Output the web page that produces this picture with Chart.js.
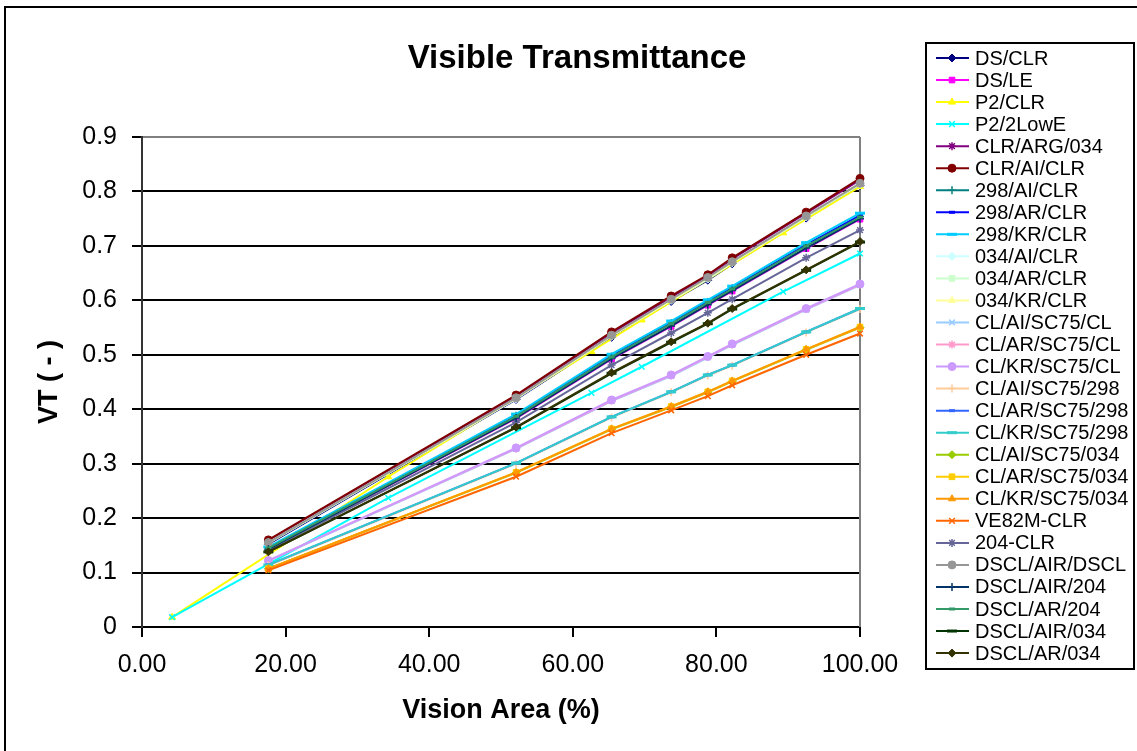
<!DOCTYPE html>
<html>
<head>
<meta charset="utf-8">
<title>Visible Transmittance</title>
<script src="https://cdn.jsdelivr.net/npm/chart.js@4.4.1/dist/chart.umd.min.js"></script>
<style>
  html, body { margin: 0; padding: 0; background: #fff; }
  #vt-chart { display: block; }
</style>
</head>
<body>
<canvas id="vt-chart" width="1137" height="751"></canvas>
<script>
// Vision area (%) where the VT was computed
const visionArea = [17.6, 52.1, 65.4, 73.7, 78.8, 82.2, 92.5, 100.0];
const visionAreaP2 = [4.2, 34.3, 62.6, 69.6, 89.3, 100.0];

// VT values per glazing
const dsClr = [0.152, 0.418, 0.532, 0.598, 0.637, 0.667, 0.751, 0.811];
const dsLe = [0.143, 0.383, 0.492, 0.552, 0.591, 0.617, 0.695, 0.749];
const p2Clr = [0.018, 0.276, 0.506, 0.564, 0.724, 0.809];
const p2LowE = [0.018, 0.237, 0.430, 0.478, 0.616, 0.686];
const clrArg034 = [0.158, 0.424, 0.540, 0.606, 0.645, 0.676, 0.760, 0.821];
const clrAiClr = [0.160, 0.426, 0.542, 0.608, 0.647, 0.678, 0.762, 0.824];
const g298AiClr = [0.146, 0.388, 0.497, 0.558, 0.597, 0.622, 0.701, 0.754];
const g298ArClr = [0.146, 0.389, 0.498, 0.559, 0.598, 0.623, 0.702, 0.756];
const g298KrClr = [0.147, 0.391, 0.501, 0.562, 0.601, 0.626, 0.706, 0.760];
const g034AiClr = [0.154, 0.419, 0.534, 0.600, 0.639, 0.669, 0.753, 0.813];
const g034ArClr = [0.154, 0.420, 0.535, 0.601, 0.640, 0.670, 0.754, 0.814];
const g034KrClr = [0.155, 0.420, 0.535, 0.601, 0.641, 0.670, 0.754, 0.815];
const clAiSc75Cl = [0.121, 0.327, 0.415, 0.461, 0.495, 0.518, 0.583, 0.628];
const clArSc75Cl = [0.122, 0.328, 0.416, 0.462, 0.496, 0.519, 0.584, 0.629];
const clKrSc75Cl = [0.122, 0.329, 0.417, 0.463, 0.497, 0.520, 0.585, 0.630];
const clAiSc75298 = [0.113, 0.300, 0.385, 0.431, 0.462, 0.480, 0.541, 0.584];
const clArSc75298 = [0.114, 0.301, 0.386, 0.432, 0.463, 0.481, 0.542, 0.585];
const clKrSc75298 = [0.114, 0.301, 0.386, 0.432, 0.463, 0.481, 0.542, 0.585];
const clAiSc75034 = [0.107, 0.283, 0.363, 0.404, 0.431, 0.451, 0.509, 0.550];
const clArSc75034 = [0.107, 0.284, 0.364, 0.405, 0.432, 0.452, 0.510, 0.551];
const clKrSc75034 = [0.107, 0.284, 0.364, 0.405, 0.432, 0.452, 0.510, 0.551];
const ve82mClr = [0.104, 0.276, 0.356, 0.398, 0.424, 0.444, 0.500, 0.539];
const g204Clr = [0.141, 0.376, 0.481, 0.540, 0.577, 0.602, 0.678, 0.729];
const dsclAirDscl = [0.155, 0.421, 0.536, 0.602, 0.642, 0.671, 0.755, 0.815];
const dsclAir204 = [0.143, 0.384, 0.493, 0.553, 0.592, 0.618, 0.696, 0.750];
const dsclAr204 = [0.145, 0.387, 0.496, 0.557, 0.596, 0.621, 0.700, 0.753];
const dsclAir034 = [0.138, 0.366, 0.466, 0.523, 0.557, 0.584, 0.655, 0.707];
const dsclAr034 = [0.138, 0.367, 0.467, 0.524, 0.558, 0.585, 0.656, 0.708];

const seriesNames = [
    'DS/CLR', 'DS/LE', 'P2/CLR', 'P2/2LowE', 'CLR/ARG/034', 'CLR/AI/CLR',
    '298/AI/CLR', '298/AR/CLR', '298/KR/CLR', '034/AI/CLR', '034/AR/CLR', '034/KR/CLR',
    'CL/AI/SC75/CL', 'CL/AR/SC75/CL', 'CL/KR/SC75/CL', 'CL/AI/SC75/298', 'CL/AR/SC75/298',
    'CL/KR/SC75/298', 'CL/AI/SC75/034', 'CL/AR/SC75/034', 'CL/KR/SC75/034', 'VE82M-CLR',
    '204-CLR', 'DSCL/AIR/DSCL', 'DSCL/AIR/204', 'DSCL/AR/204', 'DSCL/AIR/034', 'DSCL/AR/034'
];
const seriesValues = [
    dsClr, dsLe, p2Clr, p2LowE, clrArg034, clrAiClr,
    g298AiClr, g298ArClr, g298KrClr, g034AiClr, g034ArClr, g034KrClr,
    clAiSc75Cl, clArSc75Cl, clKrSc75Cl, clAiSc75298, clArSc75298,
    clKrSc75298, clAiSc75034, clArSc75034, clKrSc75034, ve82mClr,
    g204Clr, dsclAirDscl, dsclAir204, dsclAr204, dsclAir034, dsclAr034
];
const seriesX = seriesNames.map(name => name.startsWith('P2/') ? visionAreaP2 : visionArea);

// Excel-like series colours and markers
const seriesColors = [
    '#000080', '#FF00FF', '#FFFF00', '#00FFFF', '#800080', '#800000',
    '#008080', '#0000FF', '#00CCFF', '#CCFFFF', '#CCFFCC', '#FFFF99',
    '#99CCFF', '#FF99CC', '#CC99FF', '#FFCC99', '#3366FF',
    '#33CCCC', '#99CC00', '#FFCC00', '#FF9900', '#FF6600',
    '#666699', '#969696', '#003366', '#339966', '#003300', '#333300'
];
const markerCycle = ['rectRot', 'rect', 'triangle', 'crossRot', 'star', 'circle', 'cross', 'line', 'line'];

const FONT = '"Liberation Sans", Arial, Helvetica, sans-serif';

// Build the datasets
const datasets = seriesNames.map((name, i) => {
    const style = markerCycle[i % markerCycle.length];
    const isStroke = style === 'crossRot' || style === 'star' || style === 'cross' || style === 'line';
    return {
        label: name,
        data: seriesValues[i].map((v, j) => ({ x: seriesX[i][j], y: v })),
        showLine: true,
        tension: 0,
        borderColor: seriesColors[i],
        backgroundColor: seriesColors[i],
        borderWidth: 2,
        pointStyle: style,
        pointRadius: style === 'line' ? (i % 9 === 8 ? 5 : 3) : 4,
        pointBackgroundColor: seriesColors[i],
        pointBorderColor: seriesColors[i],
        pointBorderWidth: style === 'line' ? 3 : (isStroke ? 1.5 : 1),
        order: seriesNames.length - i,
        clip: 10
    };
});

// Frame, title and plot border
const frame = {
    id: 'frame',
    beforeDraw(chart) {
        const ctx = chart.ctx;
        ctx.save();
        ctx.fillStyle = '#fff';
        ctx.fillRect(0, 0, chart.width, chart.height);
        ctx.strokeStyle = '#000';
        ctx.lineWidth = 2;
        ctx.strokeRect(5, 7, chart.width + 10, chart.height + 10);
        ctx.restore();
    },
    beforeDatasetsDraw(chart) {
        const a = chart.chartArea;
        const ctx = chart.ctx;
        ctx.save();
        ctx.strokeStyle = '#808080';
        ctx.lineWidth = 2;
        ctx.beginPath();
        ctx.moveTo(a.right, a.top);
        ctx.lineTo(a.right, a.bottom);
        ctx.stroke();
        ctx.restore();
    },
    afterDraw(chart) {
        const ctx = chart.ctx;
        ctx.save();
        ctx.fillStyle = '#000';
        ctx.font = 'bold 33px ' + FONT;
        ctx.textAlign = 'center';
        ctx.textBaseline = 'alphabetic';
        ctx.fillText('Visible Transmittance', 577, 68);
        ctx.restore();
    }
};

// Legend box on the right, drawn from the datasets
const legendBox = {
    id: 'legendBox',
    afterDraw(chart) {
        const ctx = chart.ctx;
        const top = 43, left = 926, rowH = 22.04;
        ctx.save();
        ctx.strokeStyle = '#000';
        ctx.lineWidth = 2;
        ctx.strokeRect(left, top, 208, 626);
        ctx.font = '20px ' + FONT;
        ctx.textBaseline = 'middle';
        ctx.textAlign = 'left';
        chart.data.datasets.forEach((ds, i) => {
            const y = 58 + i * rowH;
            ctx.strokeStyle = ds.borderColor;
            ctx.lineWidth = 2;
            ctx.beginPath();
            ctx.moveTo(936, y);
            ctx.lineTo(969, y);
            ctx.stroke();
            ctx.fillStyle = ds.pointBackgroundColor;
            ctx.strokeStyle = ds.pointBorderColor;
            ctx.lineWidth = ds.pointBorderWidth;
            Chart.helpers.drawPoint(ctx, {
                pointStyle: ds.pointStyle,
                radius: ds.pointRadius,
                borderWidth: ds.pointBorderWidth,
                rotation: 0
            }, 952, y);
            ctx.fillStyle = '#000';
            ctx.fillText(ds.label, 975, y + 1);
        });
        ctx.restore();
    }
};

const ctx = document.getElementById('vt-chart').getContext('2d');
new Chart(ctx, {
    type: 'scatter',
    data: { datasets: datasets },
    plugins: [frame, legendBox],
    options: {
        responsive: false,
        animation: false,
        layout: { padding: { left: 10, right: 277, top: 137, bottom: 10 } },
        plugins: {
            legend: { display: false },
            title: { display: false },
            tooltip: { enabled: false }
        },
        scales: {
            x: {
                type: 'linear',
                min: 0,
                max: 100,
                afterFit: (scale) => { scale.height = 114; },
                ticks: {
                    stepSize: 20,
                    padding: 13,
                    color: '#000',
                    font: { family: FONT, size: 25 },
                    maxRotation: 0,
                    callback: (v) => v.toFixed(2)
                },
                grid: {
                    drawOnChartArea: false,
                    drawTicks: true,
                    tickLength: 10,
                    color: '#000',
                    lineWidth: 2
                },
                border: { color: '#000', width: 2 },
                title: {
                    display: true,
                    text: 'Vision Area (%)',
                    color: '#000',
                    font: { family: FONT, size: 27, weight: 'bold' },
                    padding: { top: 0, bottom: 14 }
                }
            },
            y: {
                type: 'linear',
                min: 0,
                max: 0.9,
                afterFit: (scale) => { scale.width = 132; },
                ticks: {
                    stepSize: 0.1,
                    padding: 15,
                    color: '#000',
                    font: { family: FONT, size: 25 },
                    callback: (v) => v === 0 ? '0' : v.toFixed(1)
                },
                grid: {
                    drawTicks: true,
                    tickLength: 10,
                    color: (c) => (c.tick && c.tick.value > 0.85) ? '#808080' : '#000',
                    tickColor: '#000',
                    lineWidth: 2
                },
                border: { color: '#333', width: 2 },
                title: {
                    display: true,
                    text: 'VT ( - )',
                    color: '#000',
                    font: { family: FONT, size: 27, weight: 'bold' },
                    padding: { top: 23, bottom: 0 }
                }
            }
        }
    }
});
</script>
</body>
</html>
